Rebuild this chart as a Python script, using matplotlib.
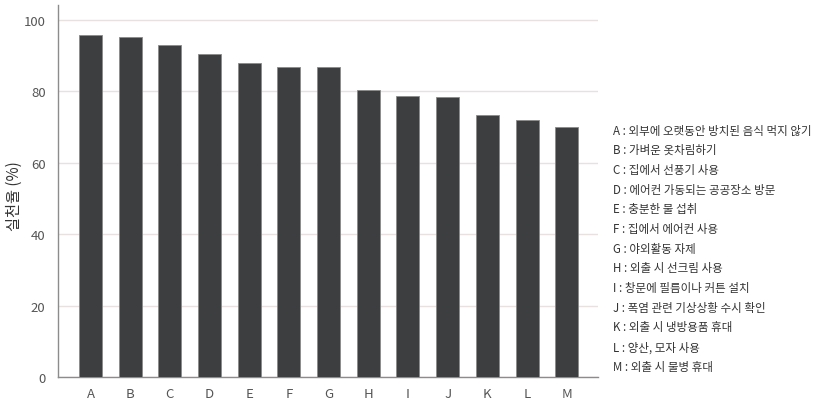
import matplotlib
matplotlib.use("Agg")
import matplotlib.pyplot as plt

plt.rcParams['font.family'] = ['Noto Sans CJK KR', 'DejaVu Sans']

categories = ["A", "B", "C", "D", "E", "F", "G", "H", "I", "J", "K", "L", "M"]
values = [95.9, 95.3, 93.1, 90.4, 88.1, 86.9, 86.9, 80.4, 78.8, 78.4, 73.5, 71.9, 70.0]
descriptions = [
    "외부에 오랫동안 방치된 음식 먹지 않기",
    "가벼운 옷차림하기",
    "집에서 선풍기 사용",
    "에어컨 가동되는 공공장소 방문",
    "충분한 물 섭취",
    "집에서 에어컨 사용",
    "야외활동 자제",
    "외출 시 선크림 사용",
    "창문에 필름이나 커튼 설치",
    "폭염 관련 기상상황 수시 확인",
    "외출 시 냉방용품 휴대",
    "양산, 모자 사용",
    "외출 시 물병 휴대",
]
y_ticks = [0, 20, 40, 60, 80, 100]
y_label = "실천율 (%)"

fig = plt.figure(figsize=(8.17, 4.06), dpi=100)
ax = fig.add_axes([0.071, 0.069, 0.661, 0.916])

x = range(len(categories))
ax.bar(x, values, width=0.58, color="#3d3e3f", edgecolor="#8a8a8a",
       linewidth=0.6, zorder=3)

ax.set_xlim(-0.82, 12.79)
ax.set_ylim(0, 104.2)
ax.set_xticks(list(x))
ax.set_xticklabels(categories)
ax.set_yticks(y_ticks)
ax.tick_params(axis="both", length=0, labelsize=9.5, colors="#555555")
ax.tick_params(axis="x", pad=7)
ax.tick_params(axis="y", pad=9)
ax.yaxis.grid(True, color="#e9e0e0", linewidth=1.0, zorder=0)
ax.set_axisbelow(True)

for side in ("top", "right"):
    ax.spines[side].set_visible(False)
for side in ("left", "bottom"):
    ax.spines[side].set_color("#8c8c8c")
    ax.spines[side].set_linewidth(1.0)

ax.set_ylabel(y_label, fontsize=11, color="#333333")
ax.yaxis.set_label_coords(-0.066, 0.49)

legend_x = 613 / 817
top_y = 1 - 131 / 406
step = 19.7 / 406
for i, (cat, desc) in enumerate(zip(categories, descriptions)):
    fig.text(legend_x, top_y - i * step, f"{cat} : {desc}", fontsize=8.3,
             color="#333333", va="center", ha="left")

fig.savefig("out.png", dpi=100)
